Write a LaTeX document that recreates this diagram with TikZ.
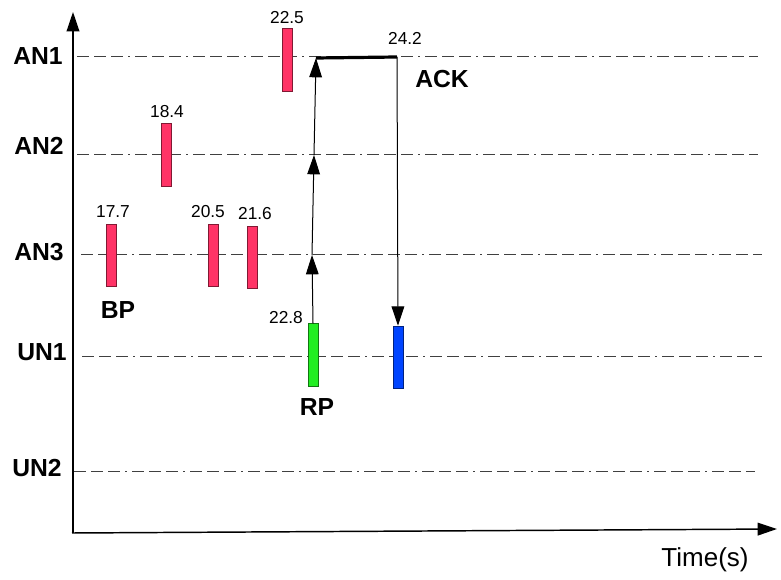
\documentclass[tikz,border=0pt]{standalone}
\usepackage{fontspec}
\setmainfont{Liberation Sans}
\usetikzlibrary{arrows.meta}

\definecolor{pinkbar}{HTML}{FF3366}
\definecolor{greenbar}{HTML}{22EE22}
\definecolor{bluebar}{HTML}{0044FF}

\tikzset{
  lane/.style={black!75, line width=0.75pt, dash pattern=on 9pt off 3.75pt on 9pt off 3.75pt on 9pt off 3.75pt on 1.5pt off 3.75pt},
  nodename/.style={font=\bfseries\fontsize{18.5}{20}\selectfont, inner sep=0pt},
  stamp/.style={font=\fontsize{13}{15}\selectfont, inner sep=0pt},
  bar/.style={draw=#1!50!black, fill=#1, minimum width=7.5pt, minimum height=47pt, inner sep=0pt, line width=0.6pt},
  msg/.style={-{Triangle[length=14.5pt,width=9.5pt]}, line width=0.75pt},
}

\begin{document}
\begin{tikzpicture}[x=0.75pt, y=-0.75pt]
\useasboundingbox (0,0) rectangle (781,580);

% axes
\coordinate (O) at (73,533);
\coordinate (ytop) at (73,12);
\coordinate (xend) at (777,529);
\draw [msg, line width=1.1pt] (O) -- (ytop);
\draw [msg, line width=1.1pt] (72,533) -- (xend);
\node [font=\fontsize{19.5}{22}\selectfont, inner sep=0pt] (time) at (705,560) {Time(s)};

% lanes and their names
\foreach \n/\y/\a/\b/\lx/\ly in {AN1/57/77/758/38/56.5, AN2/155/77/758/39/146, AN3/255/81/762/39/252, UN1/357/82/762/42/352, UN2/471/74/755/37/468}{
  \draw [lane] (\a,\y) -- (\b,\y);
  \node [nodename] (\n) at (\lx,\ly) {\n};
}

% packets
\node [bar=pinkbar] (p225) at (287,60) {};
\node [bar=pinkbar] (p184) at (166,155) {};
\node [bar=pinkbar] (p177) at (111,255.5) {};
\node [bar=pinkbar] (p205) at (213,255.5) {};
\node [bar=pinkbar] (p216) at (252,257.5) {};
\node [bar=greenbar] (rp) at (313,355) {};
\node [bar=bluebar] (ackbar) at (398,357.5) {};

\node [stamp] (t225) at (287,18) {22.5};
\node [stamp] (t184) at (167,112) {18.4};
\node [stamp] (t177) at (113,212) {17.7};
\node [stamp] (t205) at (208,212) {20.5};
\node [stamp] (t216) at (255,214) {21.6};
\node [stamp] (t242) at (405,38) {24.2};
\node [stamp] (t228) at (286,318) {22.8};

\node [nodename] (BP) at (118,310) {BP};
\node [nodename] (RP) at (317,407) {RP};
\node [nodename] (ACK) at (442,79) {ACK};

% relay path and ack
\coordinate (h3) at (312,255);
\coordinate (h2) at (314,155);
\coordinate (h1) at (316,58);
\coordinate (ack) at (397,57);
\draw [msg] (rp.north) -- (h3);
\draw [msg] (h3) -- (h2);
\draw [msg] (h2) -- (h1);
\draw [line width=2.4pt] (h1) -- (ack);
\draw [msg] (ack) -- (ackbar.north);

\end{tikzpicture}
\end{document}
